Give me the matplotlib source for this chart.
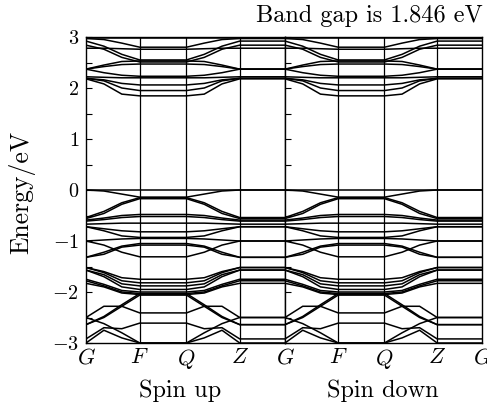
import matplotlib
matplotlib.use("Agg")
import matplotlib.pyplot as plt
import numpy as np

plt.rcParams["mathtext.fontset"] = "cm"
plt.rcParams["font.family"] = ["cmr10", "DejaVu Serif"]
plt.rcParams["axes.formatter.use_mathtext"] = True

# high-symmetry path labels and positions along each panel
kpath_labels = ["G", "F", "Q", "Z", "G"]
kpath_pos = [0.0, 0.54, 1.01, 1.545, 2.0]

# band energies (eV) sampled at G, 1/3, 2/3 of G-F, and F
# F-Q is dispersionless, Q-Z mirrors G-F, Z-G is dispersionless
conduction_bands = [
    [2.98, 2.98, 2.98, 2.98],
    [2.97, 2.95, 2.88, 2.80],
    [2.92, 2.82, 2.66, 2.55],
    [2.84, 2.76, 2.60, 2.51],
    [2.78, 2.78, 2.77, 2.76],
    [2.37, 2.42, 2.46, 2.47],
    [2.37, 2.45, 2.52, 2.53],
    [2.37, 2.30, 2.25, 2.23],
    [2.22, 2.21, 2.20, 2.20],
    [2.19, 2.16, 2.09, 2.06],
    [2.19, 2.14, 2.00, 1.95],
    [2.18, 2.08, 1.88, 1.846],
]

valence_bands = [
    [0.00, 0.00, 0.00, 0.00],
    [0.00, -0.02, -0.08, -0.14],
    [-0.54, -0.42, -0.25, -0.15],
    [-0.56, -0.46, -0.28, -0.17],
    [-0.59, -0.55, -0.50, -0.48],
    [-0.61, -0.58, -0.54, -0.52],
    [-0.67, -0.66, -0.65, -0.65],
    [-0.72, -0.76, -0.80, -0.82],
    [-0.72, -0.80, -0.90, -0.93],
    [-1.00, -1.08, -1.22, -1.31],
    [-1.00, -0.98, -0.96, -0.95],
    [-1.32, -1.22, -1.10, -1.05],
    [-1.32, -1.26, -1.12, -1.08],
    [-1.52, -1.60, -1.72, -1.75],
    [-1.52, -1.62, -1.78, -1.82],
    [-1.57, -1.66, -1.84, -1.88],
    [-1.57, -1.70, -1.90, -1.95],
    [-1.75, -1.85, -1.97, -2.00],
    [-1.78, -1.88, -2.00, -2.03],
    [-1.83, -1.90, -2.02, -2.05],
    [-2.64, -2.48, -2.25, -2.03],
    [-2.64, -2.50, -2.28, -2.06],
    [-2.50, -2.28, -2.28, -2.41],
    [-2.92, -2.70, -2.72, -2.61],
    [-3.00, -2.75, -2.90, -3.00],
    [-2.50, -2.62, -2.80, -3.00],
]

spin_up_bands = conduction_bands + valence_bands
spin_down_bands = conduction_bands + valence_bands

band_gap = 1.846
yticks = [-3, -2, -1, 0, 1, 2, 3]
panel_titles = ["Spin up", "Spin down"]


def band_path(e):
    kG, kF, kQ, kZ, kG2 = kpath_pos
    frac = np.array([0.0, 1 / 3, 2 / 3, 1.0])
    e = np.asarray(e)
    k = np.concatenate([kG + (kF - kG) * frac,
                        [kQ],
                        kQ + (kZ - kQ) * frac,
                        [kG2]])
    E = np.concatenate([e, [e[3]], e[::-1], [e[0]]])
    return k, E


W, H = 487, 403
fig = plt.figure(figsize=(W / 100, H / 100), dpi=100)
ax_top, ax_bot = 37, 343
axes = [
    fig.add_axes([86 / W, (H - ax_bot) / H, 199 / W, (ax_bot - ax_top) / H]),
    fig.add_axes([285 / W, (H - ax_bot) / H, 197 / W, (ax_bot - ax_top) / H]),
]

for i, (ax, bands) in enumerate(zip(axes, [spin_up_bands, spin_down_bands])):
    for b in bands:
        k, E = band_path(b)
        ax.plot(k, E, color="black", lw=1.1, solid_joinstyle="miter")
    for kp in kpath_pos[1:-1]:
        ax.axvline(kp, color="black", lw=0.9)
    ax.set_xlim(kpath_pos[0], kpath_pos[-1])
    ax.set_ylim(-3, 3)
    ax.set_xticks(kpath_pos)
    labels = [f"${s}$" for s in kpath_labels]
    if i == 0:
        labels[-1] = ""
    ax.set_xticklabels(labels, fontsize=16)
    ax.tick_params(axis="x", length=0, pad=3)
    ax.set_yticks(yticks)
    ax.set_yticks(np.arange(-3, 3.01, 0.5), minor=True)
    ax.tick_params(axis="y", which="both", direction="in", right=False)
    ax.tick_params(axis="y", which="major", length=4, width=0.8)
    ax.tick_params(axis="y", which="minor", length=4, width=0.8)
    for sp in ax.spines.values():
        sp.set_linewidth(1.0)
    if i == 0:
        ax.set_yticklabels([f"${v}$" for v in yticks], fontsize=14.5)
        ax.tick_params(axis="y", pad=5)
    else:
        ax.set_yticklabels([])

fig.text(22 / W, 1 - 192 / H, "Energy/eV", fontsize=18.5, rotation=90,
         ha="center", va="center")
fig.text(483 / W, 1 - 16 / H, f"Band gap is {band_gap:.3f} eV", fontsize=17.5,
         ha="right", va="center")
fig.text(180 / W, 1 - 391 / H, panel_titles[0], fontsize=17.5, ha="center", va="center")
fig.text(383 / W, 1 - 391 / H, panel_titles[1], fontsize=17.5, ha="center", va="center")

fig.savefig("out.png", dpi=100)
